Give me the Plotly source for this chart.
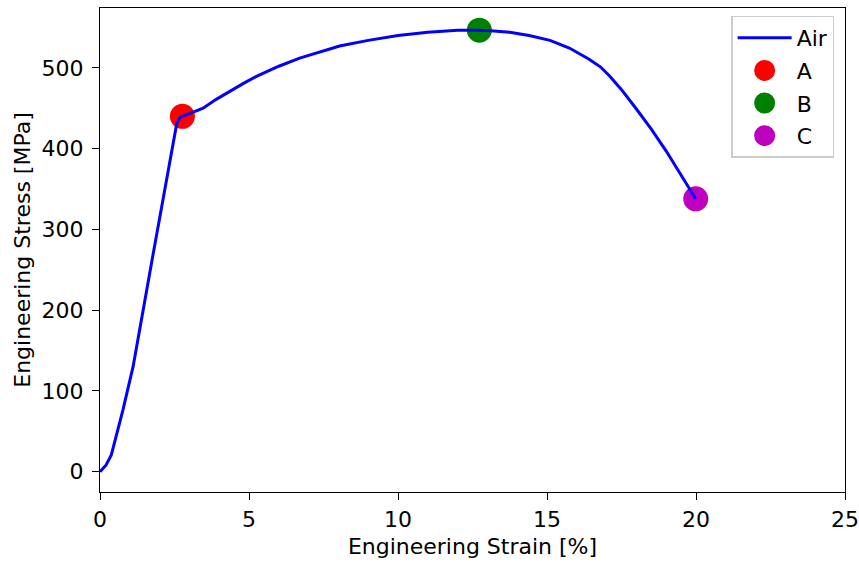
import plotly.graph_objects as go

strain = [0, 0.2, 0.38, 0.55, 0.77, 1.11, 1.44, 1.8, 2.11, 2.4, 2.58, 2.70, 3.0, 3.46,
          3.9, 4.35, 4.8, 5.25, 6.0, 6.7, 7.4, 8.04, 9.0, 10.0, 11.0, 12.0, 12.73,
          13.1, 13.75, 14.4, 15.1, 15.75, 16.4, 16.8, 17.1, 17.3, 17.5, 18.0, 18.5,
          19.0, 19.45, 19.99]
stress = [0, 8, 20.7, 45, 76.5, 130, 200, 273, 336, 395, 432, 439, 443, 450,
          461, 471, 480.5, 489.5, 502, 512, 520, 527, 534, 540, 544, 546.5, 546.6,
          546, 544, 540, 534, 524.5, 511, 501, 490, 482, 473, 449, 424,
          397, 370, 338]

point_names = ["A", "B", "C"]
point_strain = [2.765, 12.73, 19.99]
point_stress = [440, 546.6, 337.8]
point_colors = ["#ff0000", "#008000", "#bf00bf"]

FONT = "DejaVu Sans, Arial, sans-serif"
FS = 22

fig = go.Figure()
for i, name in enumerate(point_names):
    fig.add_trace(go.Scatter(
        x=[point_strain[i]], y=[point_stress[i]], mode="markers", name=name,
        marker=dict(color=point_colors[i], size=20,
                    line=dict(width=5, color=point_colors[i])),
        legendrank=2 + i, legendgroup=name,
    ))
fig.add_trace(go.Scatter(
    x=strain, y=stress, mode="lines", name="Air",
    line=dict(color="#0000ff", width=3), legendrank=1, legendgroup="Air",
))

axis_common = dict(
    showline=True, linecolor="black", linewidth=1.3, mirror=True,
    ticks="outside", ticklen=7, tickwidth=1.3, tickcolor="black",
    showgrid=False, zeroline=False, automargin=False,
    tickfont=dict(family=FONT, size=FS, color="black"),
)

fig.update_layout(
    width=859, height=563,
    margin=dict(l=100, r=14, t=8, b=71),
    paper_bgcolor="white", plot_bgcolor="white",
    font=dict(family=FONT, size=FS, color="black"),
    xaxis=dict(range=[0, 25], tickvals=[0, 5, 10, 15, 20, 25],
               title=dict(text="Engineering Strain [%]", font=dict(family=FONT, size=FS), standoff=8),
               **axis_common),
    yaxis=dict(range=[-25.2, 574.1], tickvals=[0, 100, 200, 300, 400, 500],
               ticklabelstandoff=4,
               title=dict(text="Engineering Stress [MPa]", font=dict(family=FONT, size=FS), standoff=4),
               **axis_common),
    legend=dict(x=0.9857, y=0.984, xanchor="right", yanchor="top",
                bgcolor="white", bordercolor="#cccccc", borderwidth=1.3,
                font=dict(family=FONT, size=FS), itemsizing="trace",
                itemwidth=54, tracegroupgap=1),
    showlegend=True,
)

fig.write_html("out.html", config={"displayModeBar": False},
               post_script="document.body.style.margin='0';document.body.style.overflow='hidden';")
